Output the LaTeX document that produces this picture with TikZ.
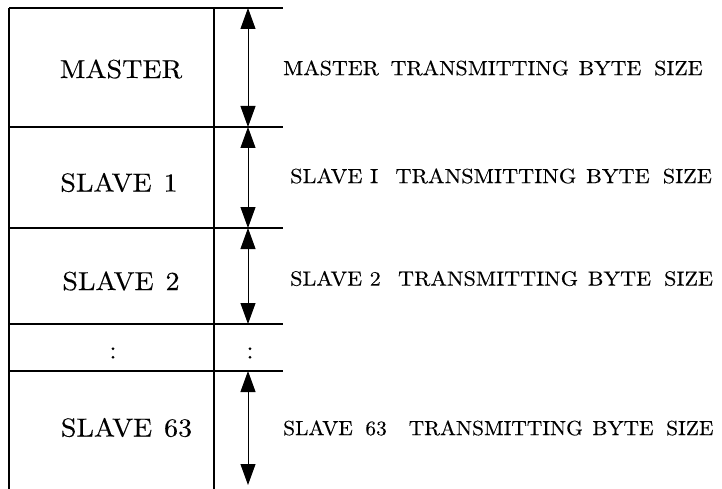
\documentclass[tikz,border=0pt]{standalone}
\usepackage{fontspec}
\usepackage{graphicx}
\usetikzlibrary{arrows.meta}
% Latin Modern at its 10pt design size, so large text keeps the sturdier strokes
\newfontfamily\lmten{lmroman10-regular.otf}[FakeBold=0.25]
\newcommand{\wide}[2]{\scalebox{#1}[1]{#2}}
\begin{document}
\begin{tikzpicture}[x=1pt,y=-1pt,
  frame/.style={line width=1.4pt},
  span/.style={line width=0.9pt,{Triangle[width=15pt,length=21pt]}-{Triangle[width=15pt,length=21pt]}},
  blocklabel/.style={inner sep=0pt,font=\lmten\fontsize{26}{30}\selectfont},
  sizelabel/.style={anchor=west,inner sep=0pt,font=\lmten\fontsize{20.5}{24}\selectfont}]
\useasboundingbox (0,0) rectangle (722,489);
% frame of the transmission table
\coordinate (tl) at (9,8);
\coordinate (bl) at (9,489);
\coordinate (tm) at (214,8);
\coordinate (bm) at (214,489);
\draw[frame] (tl) -- (bl);
\draw[frame] (tm) -- (bm);
\foreach \y/\n in {8/a,127/b,228/c,324/d,371/e}{
  \coordinate (l\n) at (9,\y);
  \coordinate (r\n) at (283,\y);
  \coordinate (m\n) at (248,\y);
  \draw[frame] (l\n) -- (r\n);
}
\coordinate (mf) at (248,485);
% byte size spans
\draw[span] (ma) -- (mb);
\draw[span] (mb) -- (mc);
\draw[span] (mc) -- (md);
\draw[span] (me) -- (mf);
% block names
\node[blocklabel] (master) at (121,69) {\wide{1.08}{MASTER}};
\node[blocklabel] (s1) at (119,182.5) {\wide{1.08}{SLAVE\hspace{11pt}1}};
\node[blocklabel] (s2) at (121,281) {\wide{1.08}{SLAVE\hspace{11pt}2}};
\node[blocklabel] (dots1) at (113,353) {:};
\node[blocklabel] (dots2) at (250,353) {:};
\node[blocklabel] (s63) at (126.5,427.5) {\wide{1.08}{SLAVE\hspace{11pt}63}};
% size descriptions
\node[sizelabel] (tmaster) at (283,68)
  {\wide{1.07}{MASTER\hspace{11pt}TRANSMITTING\hspace{9pt}BYTE\hspace{12pt}SIZE}};
\node[sizelabel] (ts1) at (290,176)
  {\wide{1.085}{SLAVE\hspace{7pt}I\hspace{16pt}TRANSMITTING\hspace{9pt}BYTE\hspace{12pt}SIZE}};
\node[sizelabel] (ts2) at (290,278.5)
  {\wide{1.08}{SLAVE\hspace{7pt}2\hspace{16pt}TRANSMITTING\hspace{9pt}BYTE\hspace{12pt}SIZE}};
\node[sizelabel] (ts63) at (283,428)
  {\wide{1.045}{SLAVE\hspace{12pt}63\hspace{21pt}TRANSMITTING\hspace{9pt}BYTE\hspace{12pt}SIZE}};
\end{tikzpicture}
\end{document}
